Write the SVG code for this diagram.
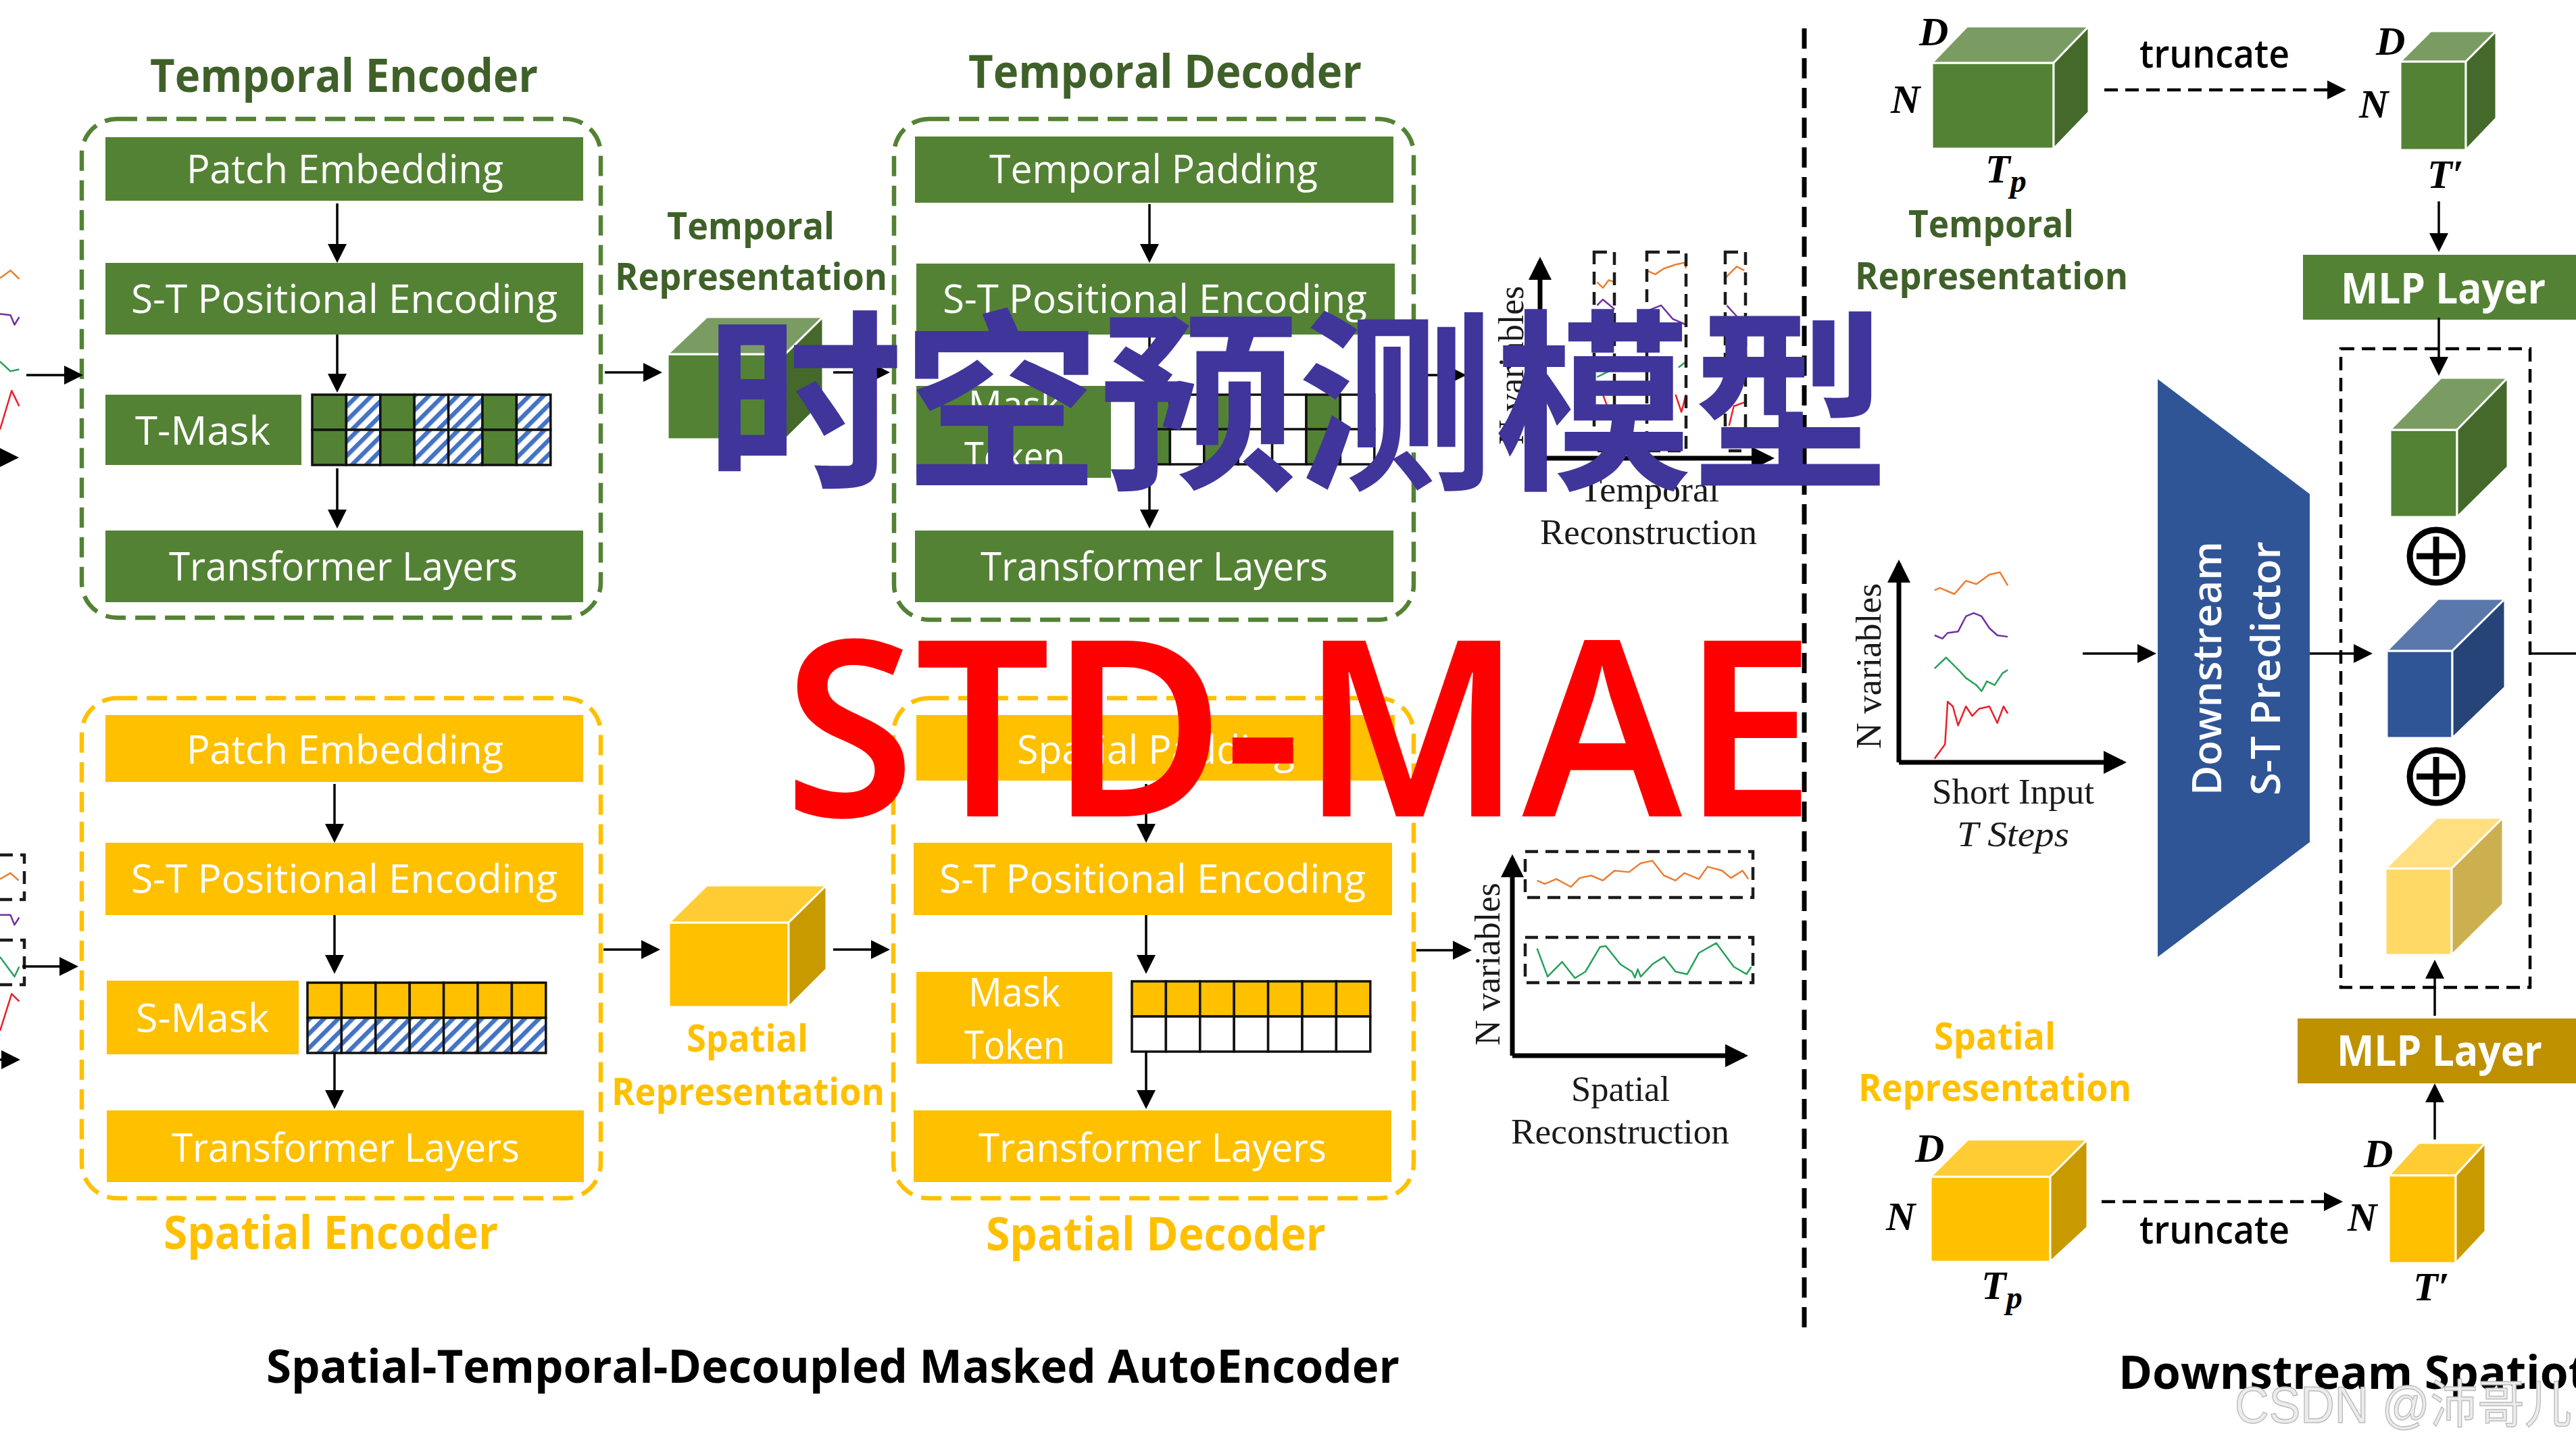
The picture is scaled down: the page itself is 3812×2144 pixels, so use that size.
<svg xmlns="http://www.w3.org/2000/svg" xmlns:xlink="http://www.w3.org/1999/xlink" width="3812" height="2144" viewBox="0 0 3812 2144">
<style>
text{font-family:"Open Sans","Liberation Sans",sans-serif}
.w{fill:#fff;font-size:59px}
.tt{font-size:68px;font-weight:700}
.lb{font-size:55px;font-weight:700}
.gt{fill:#3f6129}
.yt{fill:#ffc000}
.k{fill:#000;font-weight:700}
.sf{font-family:"Liberation Serif","Times New Roman",serif;fill:#1a1a1a;font-size:52px}
.m{font-family:"Liberation Serif","Times New Roman",serif;font-weight:700;font-style:italic;fill:#000;font-size:60px}
.g{fill:#548235}
.y{fill:#ffc000}
.box{fill:none;stroke-width:6.5;stroke-dasharray:30 14}
.cf{stroke:#fff;stroke-width:3;stroke-linejoin:round}
.ln{fill:none;stroke:#000;stroke-width:3.5}
.dl{fill:none;stroke:#000;stroke-width:4.5;stroke-dasharray:20 11}
.ax{fill:none;stroke:#000;stroke-width:7}
.db{fill:none;stroke:#1b1b1b;stroke-width:4.5;stroke-dasharray:19 11}
.sr{fill:none;stroke-width:2.5;vector-effect:non-scaling-stroke;stroke-linejoin:round}
.or{stroke:#ed7d31}.pu{stroke:#7030a0}.gr{stroke:#27a05a}.re{stroke:#e8202a}
.cell{stroke:#111;stroke-width:3.5}
</style>
<defs>
<marker id="a" markerUnits="userSpaceOnUse" markerWidth="28" markerHeight="28" viewBox="0 0 28 28" refX="24" refY="14" orient="auto"><path d="M0 0L28 14L0 28Z" fill="#000"/></marker>
<marker id="b" markerUnits="userSpaceOnUse" markerWidth="34" markerHeight="34" viewBox="0 0 34 34" refX="28" refY="17" orient="auto"><path d="M0 0L34 17L0 34Z" fill="#000"/></marker>
<pattern id="h" width="15" height="15" patternUnits="userSpaceOnUse" patternTransform="rotate(45)"><rect width="15" height="15" fill="#fff"/><rect width="6.5" height="15" fill="#4472c4"/></pattern>
<g id="rT" class="cell"><rect width="50.4" height="52" class="g"/><rect x="50.4" width="50.4" height="52" fill="url(#h)"/><rect x="100.8" width="50.4" height="52" class="g"/><rect x="151.2" width="50.4" height="52" fill="url(#h)"/><rect x="201.6" width="50.4" height="52" fill="url(#h)"/><rect x="252" width="50.4" height="52" class="g"/><rect x="302.4" width="50.4" height="52" fill="url(#h)"/></g>
<g id="rD" class="cell"><rect width="50.4" height="52" class="g"/><rect x="50.4" width="50.4" height="52" fill="#fff"/><rect x="100.8" width="50.4" height="52" class="g"/><rect x="151.2" width="50.4" height="52" fill="#fff"/><rect x="201.6" width="50.4" height="52" fill="#fff"/><rect x="252" width="50.4" height="52" class="g"/><rect x="302.4" width="50.4" height="52" fill="#fff"/></g>
<g id="rY" class="cell y"><rect width="50.4" height="52"/><rect x="50.4" width="50.4" height="52"/><rect x="100.8" width="50.4" height="52"/><rect x="151.2" width="50.4" height="52"/><rect x="201.6" width="50.4" height="52"/><rect x="252" width="50.4" height="52"/><rect x="302.4" width="50.4" height="52"/></g>
<g id="rH" class="cell" fill="url(#h)"><rect width="50.4" height="52"/><rect x="50.4" width="50.4" height="52"/><rect x="100.8" width="50.4" height="52"/><rect x="151.2" width="50.4" height="52"/><rect x="201.6" width="50.4" height="52"/><rect x="252" width="50.4" height="52"/><rect x="302.4" width="50.4" height="52"/></g>
<g id="rW" class="cell" fill="#fff"><rect width="50.4" height="52"/><rect x="50.4" width="50.4" height="52"/><rect x="100.8" width="50.4" height="52"/><rect x="151.2" width="50.4" height="52"/><rect x="201.6" width="50.4" height="52"/><rect x="252" width="50.4" height="52"/><rect x="302.4" width="50.4" height="52"/></g>
</defs>
<rect width="3812" height="2144" fill="#fff"/>

<g id="input-fragments">
<g transform="translate(0,50) scale(.861,.574)">
<polyline class="sr or" points="0,630 18,610 33,632"/><polyline class="sr pu" points="0,722 18,725 25,750 33,730"/><polyline class="sr gr" points="0,845 18,870 33,865"/><polyline class="sr re" points="0,1020 20,920 33,960"/>
</g>
<g transform="translate(0,1000) scale(.861,.7296)">
<polyline class="sr or" points="0,412 18,400 32,415"/><polyline class="sr pu" points="0,485 18,485 25,505 33,490"/><polyline class="sr gr" points="0,570 25,610 33,590"/><polyline class="sr re" points="0,720 20,645 33,660"/>
</g>
<path class="db" d="M0 1265H36V1331H0M0 1391H36V1457H0"/>
</g>

<g id="temporal-encoder">
<text class="tt gt" x="222" y="136" textLength="574" lengthAdjust="spacingAndGlyphs">Temporal Encoder</text>
<rect class="box" x="121" y="176" width="768" height="738" rx="52" stroke="#548235"/>
<g id="te-patch"><rect class="g" x="156" y="203" width="707" height="94"/><text class="w" x="276" y="271" textLength="469" lengthAdjust="spacingAndGlyphs">Patch Embedding</text></g>
<g id="te-pos"><rect class="g" x="156" y="389" width="707" height="106"/><text class="w" x="194" y="463" textLength="631" lengthAdjust="spacingAndGlyphs">S-T Positional Encoding</text></g>
<g id="te-mask"><rect class="g" x="156" y="584" width="290" height="104"/><text class="w" x="200" y="658" textLength="200" lengthAdjust="spacingAndGlyphs">T-Mask</text><use href="#rT" x="462" y="584"/><use href="#rT" x="462" y="636"/></g>
<g id="te-trans"><rect class="g" x="156" y="785" width="707" height="106"/><text class="w" x="250" y="859" textLength="516" lengthAdjust="spacingAndGlyphs">Transformer Layers</text></g>
</g>

<g id="temporal-representation">
<text class="lb gt" x="987" y="354" textLength="248" lengthAdjust="spacingAndGlyphs">Temporal</text>
<text class="lb gt" x="910" y="429" textLength="403" lengthAdjust="spacingAndGlyphs">Representation</text>
<rect class="cf g" x="988" y="524" width="174" height="126"/><polygon class="cf" fill="#7a9c62" points="988,524 1046,469 1218,469 1162,524"/><polygon class="cf" fill="#44692b" points="1162,524 1218,469 1218,595 1162,650"/>
</g>

<g id="temporal-decoder">
<text class="tt gt" x="1433" y="130" textLength="582" lengthAdjust="spacingAndGlyphs">Temporal Decoder</text>
<rect class="box" x="1323" y="176" width="769" height="741" rx="52" stroke="#548235"/>
<g id="td-padding"><rect class="g" x="1354" y="202" width="708" height="98"/><text class="w" x="1464" y="271" textLength="486" lengthAdjust="spacingAndGlyphs">Temporal Padding</text></g>
<g id="td-pos"><rect class="g" x="1356" y="390" width="708" height="105"/><text class="w" x="1395" y="463" textLength="628" lengthAdjust="spacingAndGlyphs">S-T Positional Encoding</text></g>
<g id="td-mask"><rect class="g" x="1356" y="571" width="288" height="136"/><text class="w" x="1433" y="620" textLength="136" lengthAdjust="spacingAndGlyphs">Mask</text><text class="w" x="1427" y="696" textLength="149" lengthAdjust="spacingAndGlyphs">Token</text><use href="#rD" x="1681" y="584"/><use href="#rD" x="1681" y="635"/></g>
<g id="td-trans"><rect class="g" x="1354" y="785" width="708" height="106"/><text class="w" x="1451" y="859" textLength="514" lengthAdjust="spacingAndGlyphs">Transformer Layers</text></g>
</g>

<g id="temporal-reconstruction">
<text class="sf" transform="translate(2254,658) rotate(-90)" textLength="235" lengthAdjust="spacingAndGlyphs" x="0" y="0">N variables</text>
<g transform="translate(1300,50) scale(.861,.574)">
<polyline class="sr or" points="1235,640 1245,655 1255,635 1265,640"/><polyline class="sr or" points="1320,610 1335,620 1350,605 1370,595 1385,590 1388,605"/><polyline class="sr or" points="1455,630 1475,600 1488,610"/>
<polyline class="sr pu" points="1235,700 1245,685 1265,710"/><polyline class="sr pu" points="1320,715 1345,700 1365,735 1388,750"/><polyline class="sr pu" points="1458,700 1470,720 1488,750"/>
<polyline class="sr gr" points="1235,885 1255,870"/><polyline class="sr gr" points="1375,860 1388,845"/>
<polyline class="sr re" points="1245,930 1260,990"/><polyline class="sr re" points="1370,930 1380,975 1388,930"/><polyline class="sr re" points="1462,1010 1470,960 1488,950"/>
</g>
<rect class="db" x="2359" y="373" width="30" height="294"/><rect class="db" x="2437" y="373" width="58" height="294"/><rect class="db" x="2553" y="373" width="30" height="294"/>
<text class="sf" x="2338" y="742" textLength="206" lengthAdjust="spacingAndGlyphs">Temporal</text>
<text class="sf" x="2279" y="805" textLength="321" lengthAdjust="spacingAndGlyphs">Reconstruction</text>
</g>

<g id="spatial-encoder">
<rect class="box" x="121" y="1033" width="768" height="740" rx="52" stroke="#ffc000"/>
<g id="se-patch"><rect class="y" x="156" y="1058" width="707" height="99"/><text class="w" x="276" y="1130" textLength="469" lengthAdjust="spacingAndGlyphs">Patch Embedding</text></g>
<g id="se-pos"><rect class="y" x="156" y="1247" width="707" height="107"/><text class="w" x="194" y="1321" textLength="631" lengthAdjust="spacingAndGlyphs">S-T Positional Encoding</text></g>
<g id="se-mask"><rect class="y" x="158" y="1451" width="284" height="109"/><text class="w" x="201" y="1527" textLength="197" lengthAdjust="spacingAndGlyphs">S-Mask</text><use href="#rY" x="455" y="1454"/><use href="#rH" x="455" y="1506"/></g>
<g id="se-trans"><rect class="y" x="158" y="1643" width="706" height="106"/><text class="w" x="254" y="1719" textLength="515" lengthAdjust="spacingAndGlyphs">Transformer Layers</text></g>
<text class="tt yt" x="242" y="1848" textLength="495" lengthAdjust="spacingAndGlyphs">Spatial Encoder</text>
</g>

<g id="spatial-representation">
<rect class="cf y" x="990" y="1365" width="177" height="125"/><polygon class="cf" fill="#ffcd33" points="990,1365 1046,1310 1223,1310 1167,1365"/><polygon class="cf" fill="#c99a00" points="1167,1365 1223,1310 1223,1434 1167,1490"/>
<text class="lb yt" x="1016" y="1556" textLength="180" lengthAdjust="spacingAndGlyphs">Spatial</text>
<text class="lb yt" x="905" y="1635" textLength="404" lengthAdjust="spacingAndGlyphs">Representation</text>
</g>

<g id="spatial-decoder">
<rect class="box" x="1322" y="1033" width="770" height="740" rx="52" stroke="#ffc000"/>
<g id="sd-padding"><rect class="y" x="1356" y="1058" width="708" height="97"/><text class="w" x="1505" y="1130" textLength="411" lengthAdjust="spacingAndGlyphs">Spatial Padding</text></g>
<g id="sd-pos"><rect class="y" x="1352" y="1247" width="708" height="107"/><text class="w" x="1390" y="1321" textLength="631" lengthAdjust="spacingAndGlyphs">S-T Positional Encoding</text></g>
<g id="sd-mask"><rect class="y" x="1356" y="1438" width="290" height="136"/><text class="w" x="1433" y="1489" textLength="136" lengthAdjust="spacingAndGlyphs">Mask</text><text class="w" x="1427" y="1567" textLength="149" lengthAdjust="spacingAndGlyphs">Token</text><use href="#rY" x="1675" y="1452"/><use href="#rW" x="1675" y="1504"/></g>
<g id="sd-trans"><rect class="y" x="1352" y="1643" width="707" height="106"/><text class="w" x="1448" y="1719" textLength="515" lengthAdjust="spacingAndGlyphs">Transformer Layers</text></g>
<text class="tt yt" x="1459" y="1850" textLength="503" lengthAdjust="spacingAndGlyphs">Spatial Decoder</text>
</g>

<g id="spatial-reconstruction">
<text class="sf" x="0" y="0" transform="translate(2219,1547) rotate(-90)" textLength="241" lengthAdjust="spacingAndGlyphs">N variables</text>
<rect class="db" x="2257" y="1260" width="337" height="68"/><rect class="db" x="2257" y="1387" width="337" height="67"/>
<g transform="translate(1300,1000) scale(.861,.7296)">
<polyline class="sr or" points="1132,415 1145,422 1165,412 1190,428 1205,410 1225,405 1245,415 1265,395 1290,398 1310,380 1330,375 1350,405 1370,415 1385,400 1410,412 1425,387 1450,395 1465,410 1485,395 1495,412"/>
<polyline class="sr gr" points="1132,553 1150,610 1175,580 1197,613 1215,600 1240,550 1250,548 1275,585 1295,600 1300,612 1305,595 1310,610 1330,585 1350,570 1370,600 1390,605 1410,562 1440,542 1470,590 1492,605 1500,590"/>
</g>
<text class="sf" x="2325" y="1629" textLength="146" lengthAdjust="spacingAndGlyphs">Spatial</text>
<text class="sf" x="2236" y="1692" textLength="323" lengthAdjust="spacingAndGlyphs">Reconstruction</text>
</g>

<text id="autoencoder-title" class="k" style="font-size:68px" x="394" y="2046" textLength="1677" lengthAdjust="spacingAndGlyphs">Spatial-Temporal-Decoupled Masked AutoEncoder</text>

<g id="downstream-temporal">
<rect class="cf g" x="2859" y="93" width="180" height="127"/><polygon class="cf" fill="#7a9c62" points="2859,93 2911,39 3091,39 3039,93"/><polygon class="cf" fill="#44692b" points="3039,93 3091,39 3091,166 3039,220"/>
<text class="m" x="2840" y="67">D</text><text class="m" x="2798" y="167">N</text><text class="m" x="2938" y="270">T<tspan font-size="48" dy="14">p</tspan></text>
<text class="lb gt" x="2824" y="351" textLength="245" lengthAdjust="spacingAndGlyphs">Temporal</text>
<text class="lb gt" x="2745" y="428" textLength="404" lengthAdjust="spacingAndGlyphs">Representation</text>
<text class="k" style="font-size:58px;font-weight:600" x="3166" y="100" textLength="222" lengthAdjust="spacingAndGlyphs">truncate</text>
<rect class="cf g" x="3552" y="91" width="97" height="131"/><polygon class="cf" fill="#7a9c62" points="3552,91 3597,46 3694,46 3649,91"/><polygon class="cf" fill="#44692b" points="3649,91 3694,46 3694,175 3649,222"/>
<text class="m" x="3516" y="81">D</text><text class="m" x="3491" y="174">N</text><text class="m" x="3592" y="278">T′</text>
</g>

<g id="mlp-temporal"><rect class="g" x="3408" y="377" width="404" height="96"/><text class="w" style="font-size:62px;font-weight:700" x="3464" y="449" textLength="303" lengthAdjust="spacingAndGlyphs">MLP Layer</text></g>

<g id="predictor"><polygon fill="#2f5597" points="3193,561 3418,731 3418,1246 3193,1416"/>
<text class="w" style="font-size:60px;font-weight:600" transform="translate(3287,1177) rotate(-90)" x="0" y="0" textLength="376" lengthAdjust="spacingAndGlyphs">Downstream</text>
<text class="w" style="font-size:60px;font-weight:600" transform="translate(3374,1177) rotate(-90)" x="0" y="0" textLength="376" lengthAdjust="spacingAndGlyphs">S-T Predictor</text>
</g>

<g id="short-input">
<text class="sf" x="0" y="0" transform="translate(2783,1108) rotate(-90)" textLength="245" lengthAdjust="spacingAndGlyphs">N variables</text>
<g transform="translate(2600,0) scale(.773,.7015)">
<polyline class="sr or" points="340,1245 350,1240 378,1253 400,1225 420,1232 445,1212 465,1207 480,1235"/>
<polyline class="sr pu" points="340,1340 355,1347 365,1335 385,1332 400,1300 415,1293 430,1300 445,1325 460,1340 480,1343"/>
<polyline class="sr gr" points="340,1410 362,1387 385,1412 400,1430 420,1445 430,1458 440,1437 455,1445 470,1420 480,1413"/>
<polyline class="sr re" points="340,1600 360,1570 365,1480 375,1490 385,1530 400,1490 412,1510 425,1495 445,1490 460,1525 472,1490 480,1505"/>
</g>
<text class="sf" x="2859" y="1189" textLength="240" lengthAdjust="spacingAndGlyphs">Short Input</text>
<text class="sf" style="font-style:italic" x="2896" y="1252" textLength="166" lengthAdjust="spacingAndGlyphs">T Steps</text>
</g>

<g id="fusion">
<g id="fusion-green"><rect class="cf g" x="3537" y="636" width="99" height="129"/><polygon class="cf" fill="#7a9c62" points="3537,636 3612,559 3711,559 3636,636"/><polygon class="cf" fill="#44692b" points="3636,636 3711,559 3711,691 3636,765"/></g>
<g id="plus-1"><circle cx="3605" cy="823" r="39" fill="none" stroke="#000" stroke-width="9"/><path d="M3576 823H3634M3605 794V852" stroke="#000" stroke-width="9"/></g>
<g id="fusion-blue"><rect class="cf" fill="#2f5597" x="3532" y="963" width="97" height="129"/><polygon class="cf" fill="#5a78ab" points="3532,963 3608,886 3707,886 3629,963"/><polygon class="cf" fill="#264478" points="3629,963 3707,886 3707,1017 3629,1092"/></g>
<g id="plus-2"><circle cx="3605" cy="1149" r="39" fill="none" stroke="#000" stroke-width="9"/><path d="M3576 1149H3634M3605 1120V1178" stroke="#000" stroke-width="9"/></g>
<g id="fusion-yellow"><rect class="cf" fill="#ffd966" x="3530" y="1285" width="98" height="128"/><polygon class="cf" fill="#ffdf80" points="3530,1285 3606,1210 3704,1210 3628,1285"/><polygon class="cf" fill="#ccb050" points="3628,1285 3704,1210 3704,1338 3628,1413"/></g>
<rect class="dl" x="3464" y="516" width="280" height="945"/>
</g>

<g id="mlp-spatial"><rect fill="#bf9000" x="3400" y="1507" width="412" height="96"/><text class="w" style="font-size:62px;font-weight:700" x="3458" y="1577" textLength="304" lengthAdjust="spacingAndGlyphs">MLP Layer</text></g>

<g id="downstream-spatial">
<text class="lb yt" x="2862" y="1553" textLength="180" lengthAdjust="spacingAndGlyphs">Spatial</text>
<text class="lb yt" x="2750" y="1629" textLength="404" lengthAdjust="spacingAndGlyphs">Representation</text>
<rect class="cf y" x="2857" y="1741" width="177" height="126"/><polygon class="cf" fill="#ffcd33" points="2857,1741 2912,1686 3089,1686 3034,1741"/><polygon class="cf" fill="#c99a00" points="3034,1741 3089,1686 3089,1816 3034,1867"/>
<text class="m" x="2834" y="1719">D</text><text class="m" x="2791" y="1820">N</text><text class="m" x="2932" y="1922">T<tspan font-size="48" dy="14">p</tspan></text>
<text class="k" style="font-size:58px;font-weight:600" x="3166" y="1840" textLength="222" lengthAdjust="spacingAndGlyphs">truncate</text>
<rect class="cf y" x="3535" y="1739" width="99" height="130"/><polygon class="cf" fill="#ffcd33" points="3535,1739 3579,1691 3678,1691 3634,1739"/><polygon class="cf" fill="#c99a00" points="3634,1739 3678,1691 3678,1822 3634,1869"/>
<text class="m" x="3498" y="1727">D</text><text class="m" x="3474" y="1821">N</text><text class="m" x="3571" y="1924">T′</text>
</g>

<text id="downstream-title" class="k" style="font-size:68px" x="3135" y="2055" textLength="695" lengthAdjust="spacingAndGlyphs">Downstream Spatiot</text>

<g id="connectors" marker-end="url(#a)">
<path class="ln" d="M39 555H119"/><path class="ln" d="M0 677H24"/>
<path class="ln" d="M499 301V385"/><path class="ln" d="M499 495V577"/><path class="ln" d="M499 693V778"/>
<path class="ln" d="M895 551H976"/><path class="ln" d="M1233 551H1313"/>
<path class="ln" d="M1701 302V385"/><path class="ln" d="M1701 495V560"/><path class="ln" d="M1701 710V778"/>
<path class="ln" d="M2092 555H2166"/>
<path class="ln" d="M33 1430H112"/><path class="ln" d="M0 1568H26"/>
<path class="ln" d="M495 1160V1243"/><path class="ln" d="M495 1354V1437"/><path class="ln" d="M495 1558V1637"/>
<path class="ln" d="M893 1405H973"/><path class="ln" d="M1233 1405H1313"/>
<path class="ln" d="M1696 1160V1243"/><path class="ln" d="M1696 1354V1437"/><path class="ln" d="M1696 1556V1637"/>
<path class="ln" d="M2096 1406H2174"/>
<path class="dl" d="M3114 133H3468"/><path class="dl" d="M3110 1778H3463"/>
<path class="ln" d="M3609 298V369"/><path class="ln" d="M3609 470V552"/>
<path class="ln" d="M3603 1686V1607"/><path class="ln" d="M3603 1503V1424"/>
<path class="ln" d="M3082 967H3187"/><path class="ln" d="M3418 967H3507"/>
<path class="ln" d="M3744 967H3812" marker-end="none"/>
<path class="ax" d="M2279 678V386" marker-end="url(#b)"/><path class="ax" d="M2279 678H2620" marker-end="url(#b)"/>
<path class="ax" d="M2238 1562V1270" marker-end="url(#b)"/><path class="ax" d="M2238 1562H2581" marker-end="url(#b)"/>
<path class="ax" d="M2810 1128V834" marker-end="url(#b)"/><path class="ax" d="M2810 1128H3141" marker-end="url(#b)"/>
</g>

<path id="divider" d="M2670 42V1969" fill="none" stroke="#000" stroke-width="7" stroke-dasharray="30 14"/>

<text id="title-zh" x="1044" y="702" font-size="288" font-weight="700" fill="#40359a" style="font-family:'Noto Sans CJK SC','Noto Sans',sans-serif" textLength="1752" lengthAdjust="spacingAndGlyphs">时空预测模型</text>
<text id="title-en" x="1160" y="1208" font-size="364" font-weight="600" fill="#ff0000" style="font-family:'Noto Sans','Open Sans',sans-serif" textLength="1526" lengthAdjust="spacingAndGlyphs">STD-MAE</text>
<text id="watermark" x="3307" y="2105" font-size="76" fill="#ececec" stroke="#bdbdbd" stroke-width="1.5" style="font-family:'Liberation Sans','Noto Sans CJK SC',sans-serif" textLength="499" lengthAdjust="spacingAndGlyphs">CSDN @沛哥儿</text>
</svg>
